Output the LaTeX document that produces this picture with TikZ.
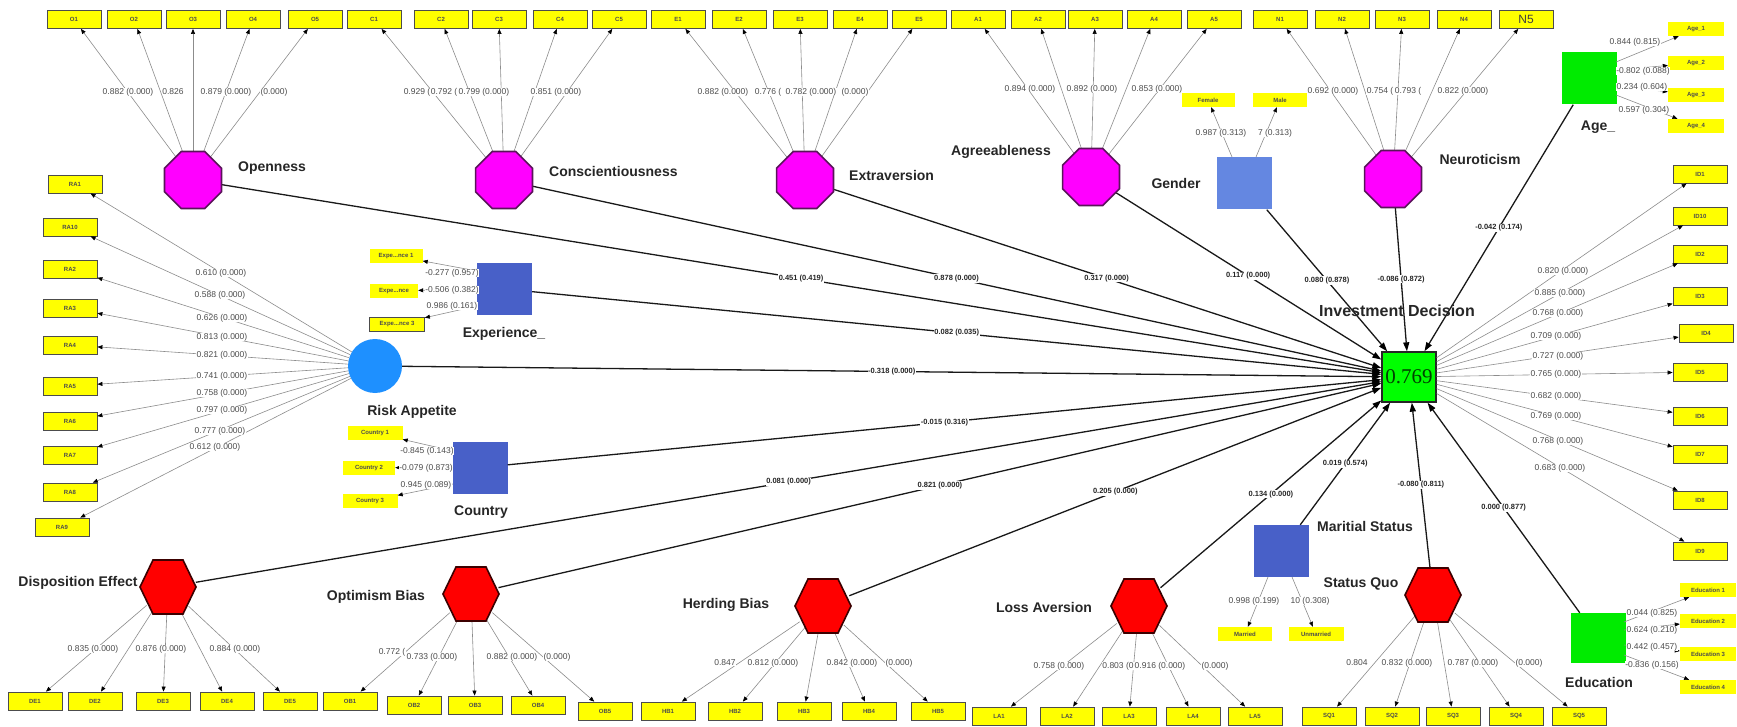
\documentclass[tikz,border=0pt]{standalone}
\usepackage{fontspec}
\setmainfont{Liberation Sans}
\newfontfamily\numserif{Liberation Serif}
\usetikzlibrary{arrows.meta,calc}

\definecolor{indyel}{RGB}{255,255,0}
\definecolor{octmag}{RGB}{255,0,255}
\definecolor{octedge}{RGB}{90,20,90}
\definecolor{hexred}{RGB}{255,0,0}
\definecolor{hexedge}{RGB}{60,0,0}
\definecolor{riskblue}{RGB}{30,144,255}
\definecolor{catblue}{RGB}{72,96,200}
\definecolor{genblue}{RGB}{100,135,225}
\definecolor{idgreen}{RGB}{0,255,0}
\definecolor{ctlgreen}{RGB}{0,235,0}

% octagon (flat top) and hexagon (flat top, pointed sides) around a named centre
\newcommand\octagonAt[1]{\draw[octo] ($(#1)+(22.5:30.8)$)
  \foreach \a in {67.5,112.5,157.5,202.5,247.5,292.5,337.5}{ -- ($(#1)+(\a:30.8)$)} -- cycle;}
\newcommand\hexagonAt[1]{\draw[hexo] ($(#1)+(28,0)$) -- ($(#1)+(15,27)$) -- ($(#1)+(-15,27)$)
  -- ($(#1)+(-28,0)$) -- ($(#1)+(-15,-27)$) -- ($(#1)+(15,-27)$) -- cycle;}

\begin{document}
\begin{tikzpicture}[x=1pt,y=-1pt,
  ibox/.style={draw=black!70, fill=indyel, line width=0.8pt, minimum width=54pt, minimum height=18pt,
    inner sep=0pt, font=\fontsize{6}{7}\selectfont\bfseries, text=black!70},
  hbox/.style={fill=indyel, inner sep=0pt, minimum width=#1, minimum height=14pt,
    font=\fontsize{6}{7}\selectfont\bfseries, text=black!70},
  hbox/.default=54pt,
  cname/.style={font=\fontsize{14}{16}\selectfont\bfseries, text=black!85, inner sep=0pt},
  ldg/.style={fill=white, inner sep=0.3pt, font=\fontsize{8.5}{9}\selectfont, text=black!70},
  coef/.style={fill=white, inner sep=0.6pt, font=\fontsize{7.5}{9}\selectfont\bfseries, text=black!85},
  meas/.style={draw=black!45, line width=0.6pt, -{Triangle[length=5pt,width=4pt,color=black]}},
  strc/.style={draw=black!90, line width=1.3pt, -{Triangle[length=9pt,width=6pt,color=black]}},
  hub/.style={circle, minimum size=56pt, inner sep=0pt},
  sq/.style={minimum width=55pt, minimum height=52pt, inner sep=0pt},
  octo/.style={fill=octmag, draw=octedge, line width=1.6pt},
  hexo/.style={fill=hexred, draw=hexedge, line width=1.6pt}
]
\fill[white] (0,0) rectangle (1737,727);
\useasboundingbox (0,0) rectangle (1737,727);

% ---------- indicator boxes ----------
\foreach \n/\x in {O1/74,O2/134,O3/193,O4/253,O5/315,C1/374,C2/441,C3/499,C4/560,C5/619,
  E1/678,E2/739,E3/800,E4/860,E5/919,A1/978,A2/1038,A3/1095,A4/1154,A5/1214,
  N1/1280,N2/1342,N3/1402,N4/1464}
  \node[ibox] (\n) at (\x,19.5) {\n};
\node[ibox,font=\fontsize{12}{13}\selectfont,text=black!75] (N5) at (1526,19.5) {N5};

\foreach \n/\x/\y in {RA1/75/184,RA10/70/227,RA2/70/269,RA3/70/308,RA4/70/345,RA5/70/386,
  RA6/70/421,RA7/70/455,RA8/70/492,RA9/62/527}
  \node[ibox] (\n) at (\x,\y) {\n};

\foreach \n/\x/\y in {ID1/1700/174,ID10/1700/216,ID2/1700/254,ID3/1700/296,ID4/1706/333,
  ID5/1700/372,ID6/1700/416,ID7/1700/454,ID8/1700/500,ID9/1700/551}
  \node[ibox] (\n) at (\x,\y) {\n};

\foreach \n/\x/\y in {DE1/35/701,DE2/95/701,DE3/163/701,DE4/227/701,DE5/290/701,
  OB1/350/701,OB2/414/705,OB3/475/705,OB4/538/705,OB5/605/711,
  HB1/668/711,HB2/735/711,HB3/804/711,HB4/869/711,HB5/938/711,
  LA1/999/716,LA2/1067/716,LA3/1129/716,LA4/1193/716,LA5/1255/716,
  SQ1/1329/716,SQ2/1392/716,SQ3/1453/716,SQ4/1516/716,SQ5/1579/716}
  \node[ibox] (\n) at (\x,\y) {\n};

% single-item / categorical indicators
\node[hbox=53pt] (ex1i) at (396,256) {Expe...nce 1};
\node[hbox=48pt] (ex2i) at (394,291) {Expe...nce};
\node[hbox=55pt, draw=black!70, line width=0.8pt] (ex3i) at (397,324) {Expe...nce 3};
\node[hbox=55pt] (co1i) at (375,433) {Country 1};
\node[hbox=52pt] (co2i) at (369,468) {Country 2};
\node[hbox=55pt] (co3i) at (370,501) {Country 3};
\node[hbox=56pt] (ag1i) at (1696,29) {Age\_1};
\node[hbox=56pt] (ag2i) at (1696,63) {Age\_2};
\node[hbox=56pt] (ag3i) at (1696,95) {Age\_3};
\node[hbox=56pt] (ag4i) at (1696,126) {Age\_4};
\node[hbox=56pt] (ed1i) at (1708,590) {Education 1};
\node[hbox=56pt] (ed2i) at (1708,621) {Education 2};
\node[hbox=56pt] (ed3i) at (1708,654) {Education 3};
\node[hbox=56pt] (ed4i) at (1708,687) {Education 4};
\node[hbox=53pt] (femi) at (1208,100) {Female};
\node[hbox=54pt] (malei) at (1280,100) {Male};
\node[hbox=54pt] (mari) at (1245,634) {Married};
\node[hbox=55pt] (unmi) at (1316,634) {Unmarried};

% ---------- constructs ----------
\node[hub] (open)  at (193,180) {};
\node[hub] (consc) at (504,180) {};
\node[hub] (extra) at (805,180) {};
\node[hub] (agree) at (1091,177) {};
\node[hub] (neuro) at (1393,179) {};
\node[hub] (dispo) at (168,587) {};
\node[hub] (optim) at (471,594) {};
\node[hub] (herd)  at (823,606) {};
\node[hub] (loss)  at (1139,606) {};
\node[hub] (squo)  at (1433,595) {};

\node[sq, fill=catblue]  (exper)   at (504.5,289) {};
\node[sq, fill=catblue]  (country) at (480,467.5) {};
\node[sq, fill=genblue]  (gender)  at (1244.5,183.5) {};
\node[sq, fill=catblue]  (marit)   at (1281,551) {};
\node[sq, fill=ctlgreen] (age)     at (1589,78.5) {};
\node[sq, fill=ctlgreen, minimum height=50pt] (edu) at (1598,638) {};
\node[circle, fill=riskblue, minimum size=54pt, inner sep=0pt] (risk) at (375,366) {};
\node[minimum width=54pt, minimum height=50pt, inner sep=0pt, fill=idgreen, draw=black!85,
  line width=1.3pt, text=black!75!green, font=\numserif\fontsize{21}{22}\selectfont]
  (inv) at (1409,377) {0.769};

% ---------- outer loadings ----------
\foreach \t in {O1,O2,O3,O4,O5} \draw[meas] (open) -- (\t);
\foreach \t in {C1,C2,C3,C4,C5} \draw[meas] (consc) -- (\t);
\foreach \t in {E1,E2,E3,E4,E5} \draw[meas] (extra) -- (\t);
\foreach \t in {A1,A2,A3,A4,A5} \draw[meas] (agree) -- (\t);
\foreach \t in {N1,N2,N3,N4,N5} \draw[meas] (neuro) -- (\t);
\foreach \t in {RA1,RA10,RA2,RA3,RA4,RA5,RA6,RA7,RA8,RA9} \draw[meas] (risk) -- (\t);
\foreach \t in {ID1,ID10,ID2,ID3,ID4,ID5,ID6,ID7,ID8,ID9} \draw[meas] (inv) -- (\t);
\foreach \t in {DE1,DE2,DE3,DE4,DE5} \draw[meas] (dispo) -- (\t);
\foreach \t in {OB1,OB2,OB3,OB4,OB5} \draw[meas] (optim) -- (\t);
\foreach \t in {HB1,HB2,HB3,HB4,HB5} \draw[meas] (herd) -- (\t);
\foreach \t in {LA1,LA2,LA3,LA4,LA5} \draw[meas] (loss) -- (\t);
\foreach \t in {SQ1,SQ2,SQ3,SQ4,SQ5} \draw[meas] (squo) -- (\t);

\coordinate (xs1) at (477,271); \coordinate (xs2) at (477,289); \coordinate (xs3) at (477,306);
\coordinate (cs1) at (453,451); \coordinate (cs2) at (453,467); \coordinate (cs3) at (453,484);
\coordinate (as1) at (1616,62); \coordinate (as2) at (1616,70); \coordinate (as3) at (1616,86); \coordinate (as4) at (1616,95);
\coordinate (es1) at (1624,622); \coordinate (es2) at (1624,630); \coordinate (es3) at (1624,645); \coordinate (es4) at (1624,655);
\coordinate (gs1) at (1232,157); \coordinate (gs2) at (1256,157);
\coordinate (ms1) at (1268,577); \coordinate (ms2) at (1292,577);
\draw[meas] (xs1) -- (ex1i); \draw[meas] (xs2) -- (ex2i); \draw[meas] (xs3) -- (ex3i);
\draw[meas] (cs1) -- (co1i); \draw[meas] (cs2) -- (co2i); \draw[meas] (cs3) -- (co3i);
\draw[meas] (as1) -- (ag1i); \draw[meas] (as2) -- (ag2i); \draw[meas] (as3) -- (ag3i); \draw[meas] (as4) -- (ag4i);
\draw[meas] (es1) -- (ed1i); \draw[meas] (es2) -- (ed2i); \draw[meas] (es3) -- (ed3i); \draw[meas] (es4) -- (ed4i);
\draw[meas] (gs1) -- (femi); \draw[meas] (gs2) -- (malei);
\draw[meas] (ms1) -- (mari); \draw[meas] (ms2) -- (unmi);

% ---------- structural paths ----------
\draw[strc] (open)    -- node[coef] {0.451 (0.419)} (inv);
\draw[strc] (consc)   -- node[coef] {0.878 (0.000)} (inv);
\draw[strc] (extra)   -- node[coef] {0.317 (0.000)} (inv);
\draw[strc] (agree)   -- node[coef] {0.117 (0.000)} (inv);
\draw[strc] (gender)  -- node[coef] {0.080 (0.878)} (inv);
\draw[strc] (neuro)   -- node[coef] {-0.086 (0.872)} (inv);
\draw[strc] (age)     -- node[coef] {-0.042 (0.174)} (inv);
\draw[strc] (exper)   -- node[coef] {0.082 (0.035)} (inv);
\draw[strc] (risk)    -- node[coef] {-0.318 (0.000)} (inv);
\draw[strc] (country) -- node[coef] {-0.015 (0.316)} (inv);
\draw[strc] (dispo)   -- node[coef] {0.081 (0.000)} (inv);
\draw[strc] (optim)   -- node[coef] {0.821 (0.000)} (inv);
\draw[strc] (herd)    -- node[coef] {0.205 (0.000)} (inv);
\draw[strc] (loss)    -- node[coef] {0.134 (0.000)} (inv);
\draw[strc] (marit)   -- node[coef] {0.019 (0.574)} (inv);
\draw[strc] (squo)    -- node[coef] {-0.080 (0.811)} (inv);
\draw[strc] (edu)     -- node[coef] {0.000 (0.877)} (inv);

% ---------- construct shapes ----------
\octagonAt{open} \octagonAt{consc} \octagonAt{extra} \octagonAt{agree} \octagonAt{neuro}
\hexagonAt{dispo} \hexagonAt{optim} \hexagonAt{herd} \hexagonAt{loss} \hexagonAt{squo}

% ---------- loading values ----------
\foreach \x/\y/\v in {128/92/0.882 (0.000),173/92/0.826,226/92/0.879 (0.000),274/92/(0.000),
  417/92/0.929 (,444/92/0.792 (,484/92/0.799 (0.000),556/92/0.851 (0.000),
  723/92/0.882 (0.000),768/92/0.776 (,811/92/0.782 (0.000),855/92/(0.000),
  1030/89/0.894 (0.000),1092/89/0.892 (0.000),1157/89/0.853 (0.000),
  1333/91/0.692 (0.000),1380/91/0.754 (,1408/91/0.793 (,1463/91/0.822 (0.000),
  221/273/0.610 (0.000),220/295/0.588 (0.000),222/318/0.626 (0.000),222/337/0.813 (0.000),
  222/355/0.821 (0.000),222/376/0.741 (0.000),222/393/0.758 (0.000),222/410/0.797 (0.000),
  220/431/0.777 (0.000),215/447/0.612 (0.000),
  1563/271/0.820 (0.000),1560/293/0.885 (0.000),1558/313/0.768 (0.000),1556/336/0.709 (0.000),
  1558/356/0.727 (0.000),1556/374/0.765 (0.000),1556/396/0.682 (0.000),1556/416/0.769 (0.000),
  1558/441/0.768 (0.000),1560/468/0.683 (0.000),
  93/649/0.835 (0.000),161/649/0.876 (0.000),235/649/0.884 (0.000),
  392/652/0.772 (,432/657/0.733 (0.000),512/657/0.882 (0.000),557/657/(0.000),
  725/663/0.847,773/663/0.812 (0.000),852/663/0.842 (0.000),899/663/(0.000),
  1059/666/0.758 (0.000),1118/666/0.803 (0,1160/666/0.916 (0.000),1215/666/(0.000),
  1357/663/0.804,1407/663/0.832 (0.000),1473/663/0.787 (0.000),1529/663/(0.000),
  452/273/-0.277 (0.957),452/290/-0.506 (0.382),452/306/0.986 (0.161),
  427/451/-0.845 (0.143),426/468/-0.079 (0.873),426/485/0.945 (0.089),
  1635/42/0.844 (0.815),1643/71/-0.802 (0.088),1642/87/0.234 (0.604),1644/110/0.597 (0.304),
  1652/613/0.044 (0.825),1652/630/0.624 (0.210),1652/647/0.442 (0.457),1652/665/-0.836 (0.156),
  1221/133/0.987 (0.313),1275/133/7 (0.313),
  1254/601/0.998 (0.199),1310/601/10 (0.308)}
  \node[ldg] at (\x,\y) {\v};

% ---------- construct names ----------
\node[cname, anchor=west] at (238,168) {Openness};
\node[cname, anchor=west] at (549,171) {Conscientiousness};
\node[cname, anchor=west] at (849,175) {Extraversion};
\node[cname] at (1001,152) {Agreeableness};
\node[cname] at (1176,183) {Gender};
\node[cname] at (1480,159) {Neuroticism};
\node[cname] at (1598,127) {Age\_};
\node[cname, font=\fontsize{16}{18}\selectfont\bfseries] at (1397,311) {Investment Decision};
\node[cname] at (504,334) {Experience\_};
\node[cname] at (412,412) {Risk Appetite};
\node[cname] at (481,512) {Country};
\node[cname] at (78,583) {Disposition Effect};
\node[cname] at (376,597) {Optimism Bias};
\node[cname] at (726,605) {Herding Bias};
\node[cname] at (1044,607) {Loss Aversion};
\node[cname] at (1365,526) {Maritial Status};
\node[cname] at (1361,584) {Status Quo};
\node[cname] at (1599,682) {Education};
\end{tikzpicture}
\end{document}
